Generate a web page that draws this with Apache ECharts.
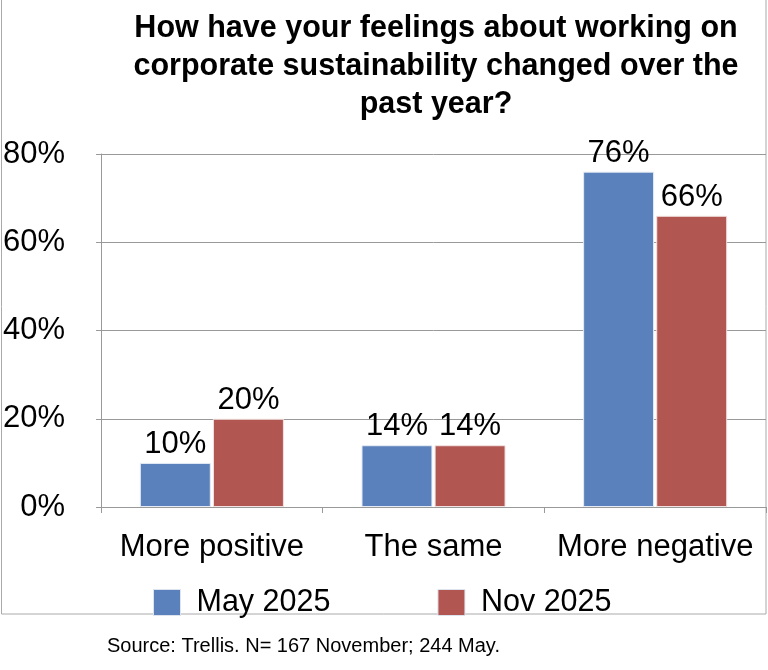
<!DOCTYPE html>
<html>
<head>
<meta charset="utf-8">
<script src="https://cdn.jsdelivr.net/npm/echarts@6/dist/echarts.min.js"></script>
<style>
html,body{margin:0;padding:0;background:#fff;}
#chart{width:768px;height:670px;}
</style>
</head>
<body>
<div id="chart"></div>
<script>
const titleText = "How have your feelings about working on\ncorporate sustainability changed over the\npast year?";
const categories = ["More positive", "The same", "More negative"];
const seriesNames = ["May 2025", "Nov 2025"];
const may2025 = [10, 14, 76];
const nov2025 = [20, 14, 66];
const yTicks = [0, 20, 40, 60, 80];
const sourceText = "Source: Trellis. N= 167 November; 244 May.";

const FONT = "'Liberation Sans', Arial, Helvetica, sans-serif";
const chart = echarts.init(document.getElementById('chart'), null, {renderer: 'canvas'});
const barLabel = {
  show: true, position: 'top', distance: 3,
  fontSize: 31, color: '#000', fontFamily: FONT,
  formatter: p => p.value + '%'
};
chart.setOption({
  animation: false,
  backgroundColor: '#fff',
  textStyle: {fontFamily: FONT},
  title: {
    text: titleText,
    left: 431, top: 5, textAlign: 'center',
    textStyle: {fontSize: 30.5, fontWeight: 'bold', lineHeight: 38, color: '#000', fontFamily: FONT}
  },
  grid: {left: 100, right: 2, top: 154, bottom: 163, containLabel: false},
  legend: {
    data: seriesNames,
    left: 148, top: 582,
    itemWidth: 27, itemHeight: 26, itemGap: 107,
    icon: 'rect',
    itemStyle: {borderColor: '#dde4ee', borderWidth: 1},
    textStyle: {fontSize: 30.5, color: '#000', fontFamily: FONT, padding: [0, 0, 0, 11]}
  },
  xAxis: {
    type: 'category', data: categories,
    axisLine: {lineStyle: {color: '#999', width: 1}},
    axisTick: {show: true, length: 6, lineStyle: {color: '#999'}},
    axisLabel: {fontSize: 31, color: '#000', margin: 25, interval: 0, fontFamily: FONT}
  },
  yAxis: {
    type: 'value', min: yTicks[0], max: yTicks[yTicks.length - 1], interval: 20,
    axisLine: {show: true, lineStyle: {color: '#999', width: 1}},
    axisTick: {show: true, length: 5, lineStyle: {color: '#999'}},
    splitLine: {lineStyle: {color: '#999', width: 1}},
    axisLabel: {fontSize: 31, color: '#000', margin: 36, formatter: '{value}%', fontFamily: FONT}
  },
  series: [
    {
      name: seriesNames[0], type: 'bar', data: may2025,
      barGap: '3%', barCategoryGap: '35%',
      itemStyle: {color: '#5a81bb', borderColor: '#e6ecf5', borderWidth: 1},
      label: barLabel
    },
    {
      name: seriesNames[1], type: 'bar', data: nov2025,
      itemStyle: {color: '#b15651', borderColor: '#f2e3e2', borderWidth: 1},
      label: barLabel
    }
  ],
  graphic: [
    {type: 'rect', shape: {x: 1.5, y: -5, width: 764.5, height: 619}, style: {fill: 'none', stroke: '#aaa', lineWidth: 1}, silent: true},
    {type: 'text', left: 107, top: 636, style: {text: sourceText, fontSize: 20, fill: '#000', fontFamily: FONT}}
  ]
});
</script>
</body>
</html>
